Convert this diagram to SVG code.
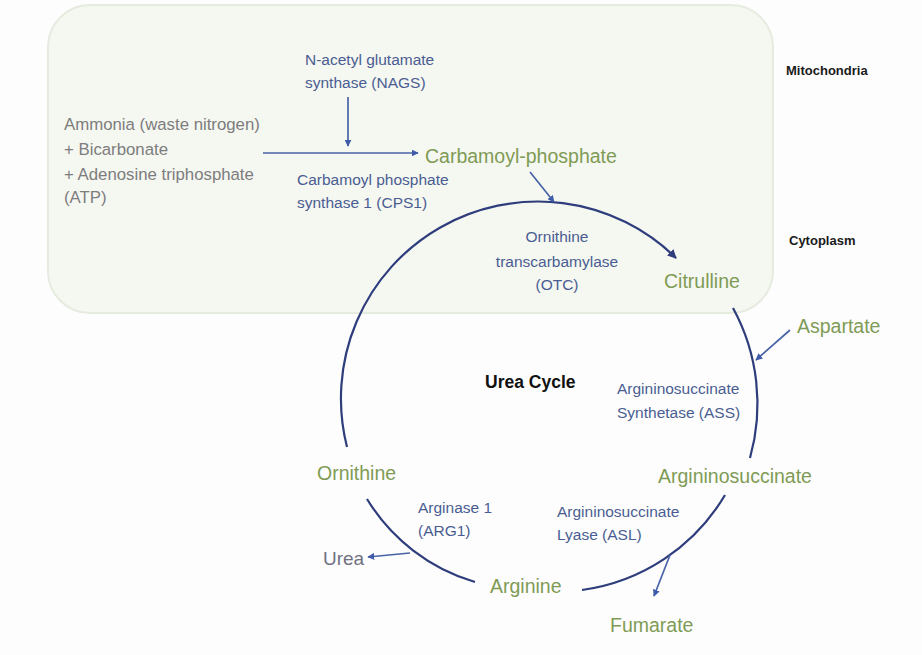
<svg xmlns="http://www.w3.org/2000/svg" width="922" height="655" viewBox="0 0 922 655">
<style>
text{font-family:"Liberation Sans",Arial,sans-serif}
.grn{fill:#7f9b55;font-size:19.5px}
.enz{fill:#4a5d92;font-size:15.5px}
.gry{fill:#7d7d7d;font-size:16.8px}
.lbl{fill:#1a1a1a;font-size:13px;font-weight:bold}
.arc{fill:none;stroke:#2e3d7c;stroke-width:2.2}
.ar{fill:none;stroke:#4863a6;stroke-width:1.7}
</style>
<defs>
<marker id="ah" viewBox="0 0 10 10" refX="9" refY="5" markerWidth="9" markerHeight="9" markerUnits="userSpaceOnUse" orient="auto">
<path d="M0,0 L10,5 L0,10 z" fill="#2e3d7c"/>
</marker>
<marker id="ahb" viewBox="0 0 10 10" refX="9" refY="5" markerWidth="7" markerHeight="7" markerUnits="userSpaceOnUse" orient="auto">
<path d="M0,0 L10,5 L0,10 z" fill="#3e5aa8"/>
</marker>
</defs>
<rect x="0" y="0" width="922" height="655" fill="#fdfdfd"/>
<g id="mitochondria">
<rect x="48" y="5" width="725" height="308" rx="42" ry="42" fill="#f5f7f1" stroke="#e6ebdf" stroke-width="2"/>
<text class="lbl" x="786" y="75">Mitochondria</text>
</g>
<g id="cytoplasm"><text class="lbl" x="789" y="245">Cytoplasm</text></g>

<g id="connectors">
<path class="arc" d="M347,447 A197,197 0 0 1 676,258" marker-end="url(#ah)"/>
<path class="arc" d="M733,308 A200,200 0 0 1 750,458"/>
<path class="arc" d="M725,495 A197,197 0 0 1 582,590"/>
<path class="arc" d="M475,582 A189,189 0 0 1 367,499"/>
<path class="ar" d="M263,153 L418,153" marker-end="url(#ahb)"/>
<path class="ar" d="M348,97 L348,146" marker-end="url(#ahb)"/>
<path class="ar" d="M530,172 L554,202" marker-end="url(#ahb)"/>
<path class="ar" d="M790,330 L756,360" marker-end="url(#ahb)"/>
<path class="ar" d="M670,555 L654,596" marker-end="url(#ahb)"/>
<path class="ar" d="M410,553 L368,557" marker-end="url(#ahb)"/>
</g>

<g id="nags"><text class="enz" x="305" y="65">N-acetyl glutamate</text><text class="enz" x="305" y="88">synthase (NAGS)</text></g>
<g id="substrates">
<text class="gry" x="64" y="130">Ammonia (waste nitrogen)</text>
<text class="gry" x="64" y="155">+ Bicarbonate</text>
<text class="gry" x="64" y="180">+ Adenosine triphosphate</text>
<text class="gry" x="64" y="203">(ATP)</text>
</g>
<g id="cps1"><text class="enz" x="297" y="185">Carbamoyl phosphate</text><text class="enz" x="297" y="208">synthase 1 (CPS1)</text></g>
<g id="carbamoyl"><text class="grn" x="425" y="163">Carbamoyl-phosphate</text></g>
<g id="otc"><text class="enz" text-anchor="middle" x="557" y="242">Ornithine</text><text class="enz" text-anchor="middle" x="557" y="267">transcarbamylase</text><text class="enz" text-anchor="middle" x="557" y="290">(OTC)</text></g>
<g id="citrulline"><text class="grn" x="664" y="288">Citrulline</text></g>
<g id="aspartate"><text class="grn" x="797" y="333">Aspartate</text></g>
<g id="title"><text x="485" y="388" style="font-size:17.5px;font-weight:bold;fill:#111">Urea Cycle</text></g>
<g id="ass"><text class="enz" x="617" y="394">Argininosuccinate</text><text class="enz" x="617" y="418">Synthetase (ASS)</text></g>
<g id="argininosuccinate"><text class="grn" x="658" y="483">Argininosuccinate</text></g>
<g id="ornithine"><text class="grn" x="317" y="480">Ornithine</text></g>
<g id="arg1"><text class="enz" x="418" y="513">Arginase 1</text><text class="enz" x="418" y="536">(ARG1)</text></g>
<g id="asl"><text class="enz" x="557" y="517">Argininosuccinate</text><text class="enz" x="557" y="540">Lyase (ASL)</text></g>
<g id="urea"><text x="323" y="565" style="font-size:19px;fill:#6f7180">Urea</text></g>
<g id="arginine"><text class="grn" x="490" y="593">Arginine</text></g>
<g id="fumarate"><text class="grn" x="610" y="632">Fumarate</text></g>
</svg>
